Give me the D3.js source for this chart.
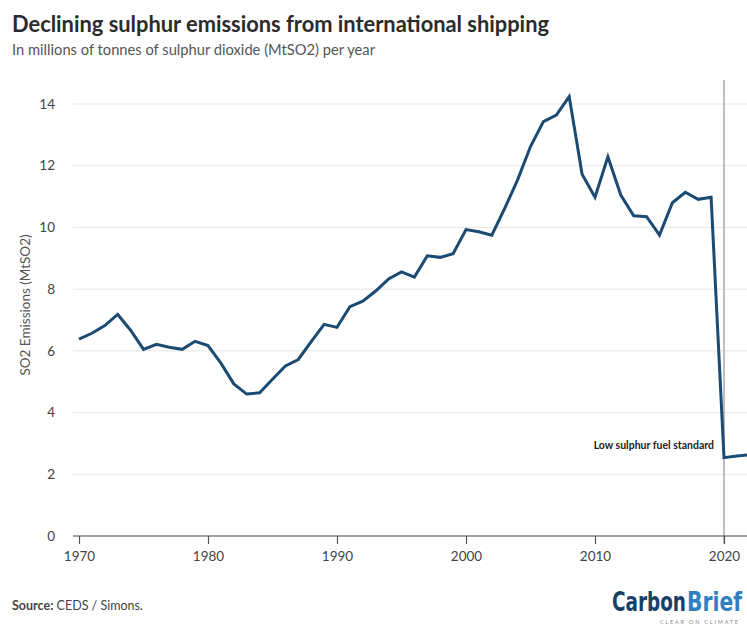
<!DOCTYPE html>
<html>
<head>
<meta charset="utf-8">
<script src="https://cdn.jsdelivr.net/npm/d3@7"></script>
<style>
  html, body { margin: 0; padding: 0; background: #fff; }
  svg { display: block; }
  text { font-family: "Lato", "Open Sans", sans-serif; }
</style>
</head>
<body>
<div id="chart"></div>
<script>
// Annual SO2 emissions from international shipping (MtSO2)
const years = d3.range(1970, 2023);
const emissions = [
  6.38, 6.57, 6.82, 7.18, 6.67, 6.05, 6.21, 6.12, 6.05, 6.31,
  6.17, 5.60, 4.93, 4.60, 4.64, 5.08, 5.51, 5.72, 6.30, 6.86,
  6.76, 7.43, 7.61, 7.94, 8.33, 8.56, 8.39, 9.08, 9.03, 9.15,
  9.93, 9.86, 9.75, 10.62, 11.54, 12.62, 13.43, 13.64, 14.24, 11.72,
  10.98, 12.29, 11.05, 10.38, 10.35, 9.75, 10.80, 11.14, 10.91, 10.98,
  2.54, 2.59, 2.63
];
const yTicks = [0, 2, 4, 6, 8, 10, 12, 14];
const xTicks = [1970, 1980, 1990, 2000, 2010, 2020];
const standardYear = 2020;
const standardLabel = "Low sulphur fuel standard";

const W = 747, H = 625;
const svg = d3.select("#chart").append("svg")
  .attr("width", W).attr("height", H);

const plotLeft = 73, plotRight = W, plotTop = 80;
const x = d3.scaleLinear().domain([1970, 2020]).range([79, 724]);
const y = d3.scaleLinear().domain([0, 14]).range([536, 104]);

// Title and subtitle
svg.append("text")
  .attr("x", 12).attr("y", 32)
  .attr("font-size", 23.5).attr("font-weight", 700)
  .attr("fill", "#2b2b2b")
  .attr("textLength", 537).attr("lengthAdjust", "spacingAndGlyphs")
  .text("Declining sulphur emissions from international shipping");

svg.append("text")
  .attr("x", 12).attr("y", 55)
  .attr("font-size", 14.5)
  .attr("fill", "#555")
  .attr("textLength", 363).attr("lengthAdjust", "spacingAndGlyphs")
  .text("In millions of tonnes of sulphur dioxide (MtSO2) per year");

// Horizontal gridlines
svg.append("g").selectAll("line")
  .data(yTicks.filter(d => d > 0))
  .join("line")
  .attr("x1", plotLeft).attr("x2", plotRight)
  .attr("y1", d => y(d)).attr("y2", d => y(d))
  .attr("stroke", "#e6e6e6").attr("stroke-width", 1);

// Y tick labels
svg.append("g").selectAll("text")
  .data(yTicks)
  .join("text")
  .attr("x", 55).attr("y", d => y(d))
  .attr("dy", "0.35em")
  .attr("text-anchor", "end")
  .attr("font-size", 13.5)
  .attr("fill", "#444")
  .text(d => d);

// Y axis title
svg.append("text")
  .attr("transform", `translate(30,${(y(0) + y(14)) / 2 - 15}) rotate(-90)`)
  .attr("text-anchor", "middle")
  .attr("font-size", 13.5)
  .attr("fill", "#555")
  .text("SO2 Emissions (MtSO2)");

// Reference line for the 2020 standard
svg.append("line")
  .attr("x1", x(standardYear)).attr("x2", x(standardYear))
  .attr("y1", plotTop).attr("y2", y(0) + 8)
  .attr("stroke", "#aaa").attr("stroke-width", 1.5);

svg.append("text")
  .attr("x", x(standardYear) - 10).attr("y", 449)
  .attr("text-anchor", "end")
  .attr("font-size", 10.5).attr("font-weight", 700)
  .attr("fill", "#222")
  .text(standardLabel);

// X axis
svg.append("line")
  .attr("x1", plotLeft).attr("x2", plotRight)
  .attr("y1", y(0)).attr("y2", y(0))
  .attr("stroke", "#444").attr("stroke-width", 1.2);

const xAxis = d3.axisBottom(x)
  .tickValues(xTicks)
  .tickFormat(d3.format("d"))
  .tickSize(8)
  .tickPadding(7);

const gx = svg.append("g")
  .attr("transform", `translate(0,${y(0)})`)
  .call(xAxis);
gx.select(".domain").remove();
gx.selectAll(".tick line").attr("stroke", "#555").attr("stroke-width", 1.2);
gx.selectAll(".tick text")
  .attr("font-size", 13.5)
  .attr("fill", "#444");

// Emissions line
const line = d3.line()
  .x((d, i) => x(years[i]))
  .y(d => y(d));

svg.append("path")
  .datum(emissions)
  .attr("d", line)
  .attr("fill", "none")
  .attr("stroke", "#1b4a72")
  .attr("stroke-width", 3)
  .attr("stroke-linejoin", "miter")
  .attr("stroke-linecap", "butt");

// Footer
const src = svg.append("text")
  .attr("x", 12).attr("y", 610)
  .attr("font-size", 12.5)
  .attr("fill", "#444");
src.append("tspan").attr("font-weight", 700).text("Source:");
src.append("tspan").text(" CEDS / Simons.");

// Logo: two words, each scaled horizontally to a condensed width
const logoFont = "'DejaVu Sans Condensed', 'Liberation Sans Narrow', sans-serif";
[
  { word: "Carbon", x0: 612, w: 74, color: "#1a3f66" },
  { word: "Brief", x0: 687, w: 55, color: "#2f7fc1" }
].forEach(p => {
  const g = svg.append("g");
  const t = g.append("text")
    .attr("x", 0).attr("y", 0)
    .style("font-family", logoFont)
    .style("font-stretch", "condensed")
    .attr("font-size", 26).attr("font-weight", 700)
    .attr("fill", p.color)
    .text(p.word);
  const natural = t.node().getComputedTextLength() || p.w;
  g.attr("transform", `translate(${p.x0},611) scale(${p.w / natural},1)`);
});

svg.append("text")
  .attr("x", 660).attr("y", 624)
  .attr("font-size", 5.5).attr("letter-spacing", 2)
  .attr("textLength", 80)
  .attr("fill", "#888")
  .text("CLEAR ON CLIMATE");
</script>
</body>
</html>
